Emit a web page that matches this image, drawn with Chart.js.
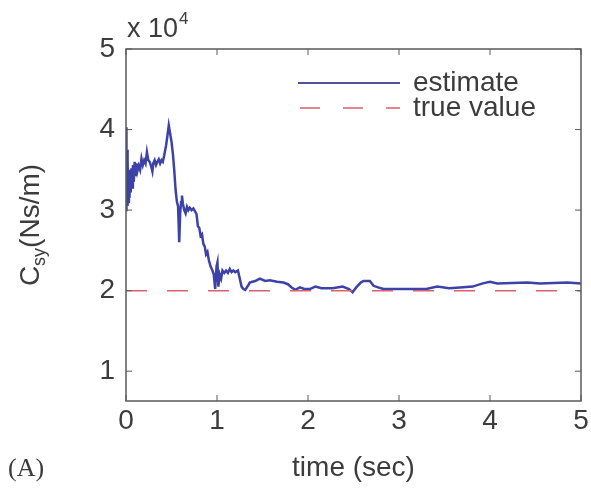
<!DOCTYPE html>
<html>
<head>
<meta charset="utf-8">
<script src="https://cdn.jsdelivr.net/npm/chart.js@4.4.1/dist/chart.umd.min.js"></script>
<style>
  html, body { margin: 0; padding: 0; background: #ffffff; }
  #wrap { width: 591px; height: 489px; }
</style>
</head>
<body>
<div id="wrap"><canvas id="chart"></canvas></div>
<script>
// Estimated damping coefficient C_sy, in units of 10^4 Ns/m
const timeSec = [
  0.000, 0.003, 0.007, 0.011, 0.015, 0.020, 0.026, 0.032, 0.038, 0.045,
  0.052, 0.060, 0.068, 0.076, 0.085, 0.095, 0.105, 0.115, 0.125, 0.140,
  0.155, 0.170, 0.185, 0.200, 0.215, 0.230, 0.245, 0.260, 0.275, 0.290,
  0.300, 0.315, 0.330, 0.345, 0.360, 0.375, 0.390, 0.405, 0.420, 0.440,
  0.455, 0.470, 0.485, 0.500, 0.515, 0.530, 0.545, 0.560, 0.572, 0.585,
  0.595, 0.605, 0.615, 0.625, 0.640, 0.655, 0.670, 0.685, 0.700, 0.720,
  0.740, 0.760, 0.775, 0.790, 0.805, 0.820, 0.835, 0.850, 0.865, 0.880,
  0.895, 0.910, 0.930, 0.950, 0.965, 0.980, 0.995, 1.005, 1.015, 1.030,
  1.045, 1.060, 1.080, 1.100, 1.120, 1.140, 1.160, 1.180, 1.200, 1.230,
  1.250, 1.270, 1.290, 1.310, 1.340, 1.360, 1.390, 1.420, 1.470, 1.530,
  1.580, 1.660, 1.730, 1.780, 1.820, 1.860, 1.910, 1.960, 2.020, 2.080,
  2.150, 2.270, 2.380, 2.450, 2.490, 2.530, 2.580, 2.610, 2.680, 2.720,
  2.770, 2.830, 3.010, 3.300, 3.420, 3.550, 3.670, 3.810, 3.920, 4.000,
  4.080, 4.410, 4.550, 4.850, 5.000
];
const estimate = [
  3.00, 4.03, 3.30, 3.75, 3.05, 3.60, 3.10, 3.50, 3.15, 3.45,
  3.22, 3.52, 3.28, 3.56, 3.35, 3.60, 3.42, 3.58, 3.48, 3.55,
  3.50, 3.64, 3.56, 3.62, 3.58, 3.72, 3.62, 3.60, 3.55, 3.48,
  3.58, 3.62, 3.56, 3.60, 3.63, 3.58, 3.62, 3.60, 3.68, 3.80,
  3.92, 4.05, 3.95, 3.85, 3.70, 3.50, 3.25, 3.10, 3.05, 2.60,
  2.95, 3.10, 3.18, 3.08, 3.00, 2.96, 3.04, 3.00, 3.03, 3.00,
  3.02, 2.98, 2.95, 2.80, 2.78, 2.68, 2.70, 2.58, 2.55, 2.45,
  2.48, 2.38, 2.30, 2.25, 2.20, 2.02, 2.30, 2.35, 2.05, 2.20,
  2.15, 2.25, 2.22, 2.25, 2.22, 2.27, 2.23, 2.25, 2.23, 2.25,
  2.15, 2.05, 2.02, 2.01, 2.06, 2.10, 2.11, 2.12, 2.15, 2.12,
  2.13, 2.11, 2.10, 2.08, 2.04, 2.01, 2.04, 2.02, 2.02, 2.05,
  2.03, 2.03, 2.05, 2.02, 1.98, 2.04, 2.10, 2.12, 2.12, 2.06,
  2.04, 2.02, 2.02, 2.02, 2.05, 2.03, 2.04, 2.05, 2.09, 2.11,
  2.09, 2.10, 2.09, 2.10, 2.09
];
const trueTime = [0, 5];
const trueValue = [2, 2];

const xTicks = [0, 1, 2, 3, 4, 5];
const yTicks = [1, 2, 3, 4, 5];
const xRange = [0, 5];
const yRange = [0.63, 5];

const seriesNames = ["estimate", "true value"];
const xTitle = "time (sec)";
const panelTag = "(A)";

const blue = "#3d42a8";
const red = "#dc5f6b";
const axisColor = "#5a5a5a";
const textColor = "#3c3c3c";
const sansFont = "'Liberation Sans', Arial, sans-serif";

const toPoints = (xs, ys) => xs.map((x, i) => ({ x: x, y: ys[i] }));

// draws box, inward ticks, legend and the text annotations
const decorations = {
  id: "decorations",
  afterDraw(chart) {
    const ctx = chart.ctx;
    const area = chart.chartArea;
    const xs = chart.scales.x;
    const ys = chart.scales.y;
    ctx.save();

    // box
    ctx.strokeStyle = axisColor;
    ctx.lineWidth = 1.5;
    ctx.strokeRect(area.left, area.top, area.right - area.left, area.bottom - area.top);

    // inward ticks on all sides
    const tl = 6;
    ctx.lineWidth = 1;
    ctx.beginPath();
    xTicks.forEach((v) => {
      const px = xs.getPixelForValue(v);
      ctx.moveTo(px, area.bottom);
      ctx.lineTo(px, area.bottom - tl);
      ctx.moveTo(px, area.top);
      ctx.lineTo(px, area.top + tl);
    });
    yTicks.forEach((v) => {
      const py = ys.getPixelForValue(v);
      ctx.moveTo(area.left, py);
      ctx.lineTo(area.left + tl, py);
      ctx.moveTo(area.right, py);
      ctx.lineTo(area.right - tl, py);
    });
    ctx.stroke();

    // legend
    const lx0 = area.left + 172;
    const lx1 = area.left + 274;
    const ly0 = area.top + 34;
    const ly1 = area.top + 59;
    ctx.lineWidth = 2;
    ctx.strokeStyle = "#4d5597";
    ctx.beginPath();
    ctx.moveTo(lx0, ly0);
    ctx.lineTo(lx1, ly0);
    ctx.stroke();
    ctx.strokeStyle = red;
    ctx.lineWidth = 1.5;
    ctx.setLineDash([20, 23]);
    ctx.beginPath();
    ctx.moveTo(lx0 + 2, ly1);
    ctx.lineTo(lx1, ly1);
    ctx.stroke();
    ctx.setLineDash([]);

    ctx.fillStyle = textColor;
    ctx.font = "28px " + sansFont;
    ctx.textAlign = "left";
    ctx.textBaseline = "middle";
    ctx.fillText(seriesNames[0], lx1 + 13, ly0);
    ctx.fillText(seriesNames[1], lx1 + 13, ly1);

    // x axis title and panel tag
    ctx.textAlign = "center";
    ctx.textBaseline = "alphabetic";
    ctx.fillText(xTitle, (area.left + area.right) / 2, 476);
    ctx.font = "26px 'Liberation Serif', 'Times New Roman', serif";
    ctx.textAlign = "left";
    ctx.fillText(panelTag, 8, 476);

    // exponent label
    ctx.font = "27px " + sansFont;
    ctx.fillText("x 10", area.left + 1, 37);
    const w = ctx.measureText("x 10").width;
    ctx.font = "17px " + sansFont;
    ctx.fillText("4", area.left + 2 + w, 24);

    // y axis title C_sy(Ns/m), rotated
    ctx.translate(31, (area.top + area.bottom) / 2);
    ctx.rotate(-Math.PI / 2);
    ctx.font = "28px " + sansFont;
    const wC = ctx.measureText("C").width;
    const wRest = ctx.measureText("(Ns/m)").width;
    ctx.font = "18px " + sansFont;
    const wSub = ctx.measureText("sy").width;
    let x0 = -(wC + wSub + wRest) / 2;
    ctx.textBaseline = "middle";
    ctx.font = "28px " + sansFont;
    ctx.fillText("C", x0, 0);
    ctx.font = "18px " + sansFont;
    ctx.fillText("sy", x0 + wC, 9);
    ctx.font = "28px " + sansFont;
    ctx.fillText("(Ns/m)", x0 + wC + wSub, 0);

    ctx.restore();
  },
};

const chart = new Chart(document.getElementById("chart"), {
  type: "line",
  data: {
    datasets: [
      {
        label: seriesNames[0],
        data: toPoints(timeSec, estimate),
        borderColor: blue,
        borderWidth: 2.5,
        pointRadius: 0,
        tension: 0,
        order: 2,
      },
      {
        label: seriesNames[1],
        data: toPoints(trueTime, trueValue),
        borderColor: red,
        borderWidth: 1.5,
        borderDash: [21, 20],
        pointRadius: 0,
        order: 1,
      },
    ],
  },
  options: {
    responsive: true,
    maintainAspectRatio: false,
    animation: false,
    layout: {
      padding: { left: 0, right: 10, top: 49, bottom: 0 },
    },
    plugins: {
      legend: { display: false },
      tooltip: { enabled: false },
    },
    scales: {
      x: {
        type: "linear",
        min: xRange[0],
        max: xRange[1],
        afterBuildTicks: (scale) => {
          scale.ticks = xTicks.map((v) => ({ value: v }));
        },
        afterFit: (scale) => {
          scale.height = 88;
        },
        grid: { display: false },
        border: { display: false },
        ticks: {
          color: textColor,
          padding: -5,
          maxRotation: 0,
          font: { family: sansFont, size: 28 },
          callback: (v) => String(v),
        },
      },
      y: {
        type: "linear",
        min: yRange[0],
        max: yRange[1],
        afterBuildTicks: (scale) => {
          scale.ticks = yTicks.map((v) => ({ value: v }));
        },
        afterFit: (scale) => {
          scale.width = 126;
        },
        grid: { display: false },
        border: { display: false },
        ticks: {
          color: textColor,
          padding: 3,
          font: { family: sansFont, size: 28 },
          callback: (v) => String(v),
        },
      },
    },
  },
  plugins: [decorations],
});
</script>
</body>
</html>
